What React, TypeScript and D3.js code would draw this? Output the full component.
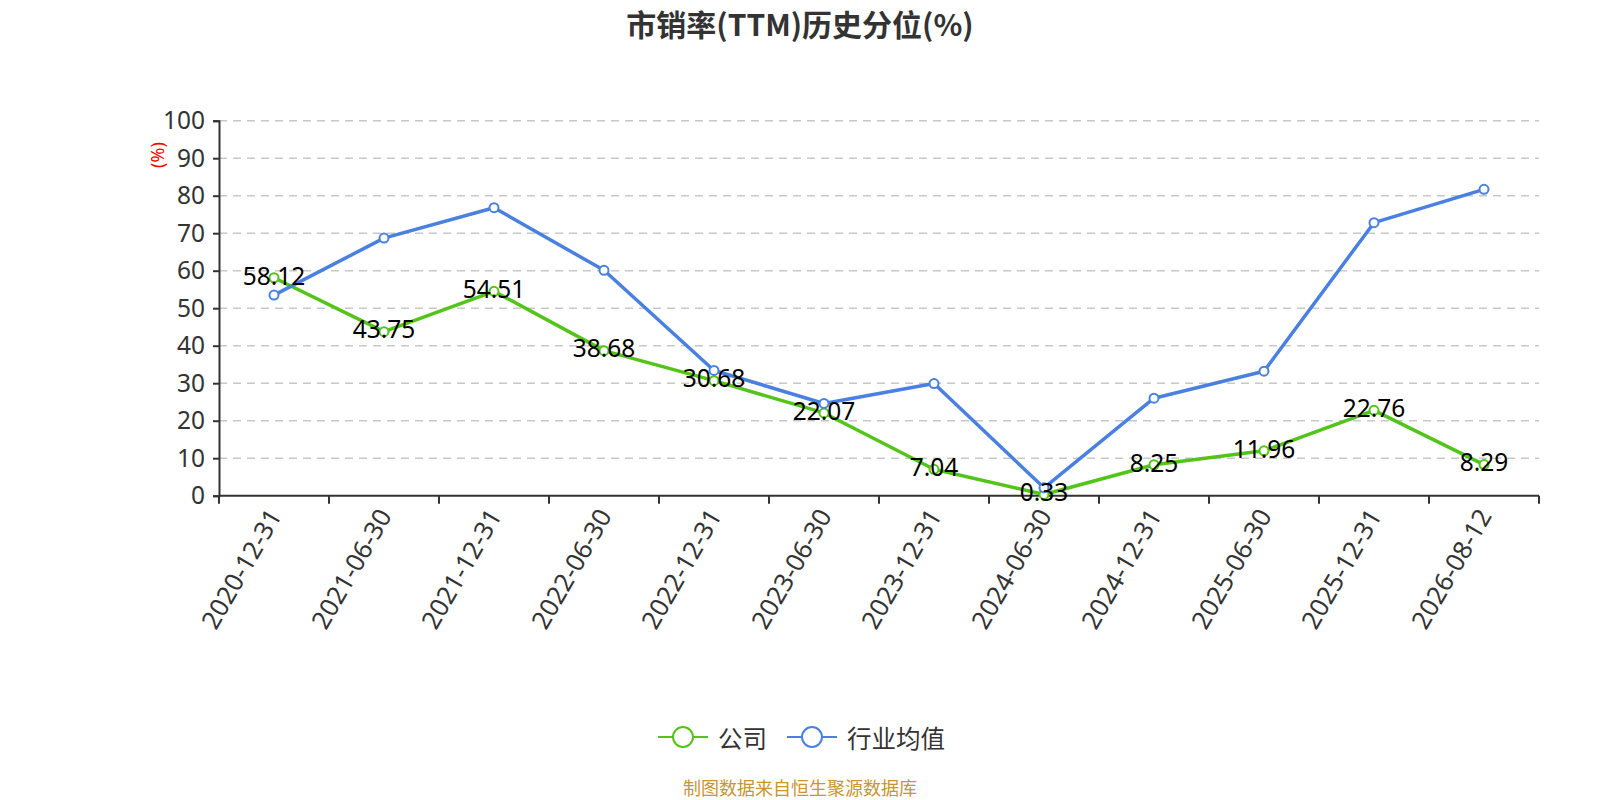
import { useRef, useEffect } from 'react';
import * as d3 from 'd3';

const categories = [
    "2020-12-31", "2021-06-30", "2021-12-31", "2022-06-30", "2022-12-31", "2023-06-30",
    "2023-12-31", "2024-06-30", "2024-12-31", "2025-06-30", "2025-12-31", "2026-08-12",
];
const companyValues = [58.12, 43.75, 54.51, 38.68, 30.68, 22.07, 7.04, 0.33, 8.25, 11.96, 22.76, 8.29];
const industryValues = [53.5, 68.7, 76.8, 60.1, 33.4, 24.6, 29.9, 2.1, 26.0, 33.2, 72.8, 81.7];
const yTicks = [0, 10, 20, 30, 40, 50, 60, 70, 80, 90, 100];
const seriesNames = ["公司", "行业均值"];
const seriesColors = ["#52c41a", "#4a80e0"];

const FONT = '"Noto Sans", "Noto Sans CJK SC", sans-serif';
const CJK = '"Noto Sans CJK SC", sans-serif';

export default function App() {
    const ref = useRef<HTMLDivElement>(null);

    useEffect(() => {
        const svg_width = 1600;
        const svg_height = 800;
        const left = 219, right = 1539, top = 120.7, bottom = 495.7;

        const svg = d3.select(ref.current)
            .append("svg")
                .attr("width", svg_width)
                .attr("height", svg_height)
                .style("display", "block")
                .style("font-family", FONT);

        // title
        svg.append("text")
            .attr("x", 800)
            .attr("y", 23)
            .attr("text-anchor", "middle")
            .attr("dominant-baseline", "central")
            .attr("font-size", 30)
            .attr("font-weight", "bold")
            .attr("font-family", CJK)
            .attr("fill", "#333")
            .text("市销率(TTM)历史分位(%)");

        const x = d3.scaleBand<string>()
            .domain(categories)
            .range([left, right]);

        const y = d3.scaleLinear()
            .domain([0, 100])
            .range([bottom, top]);

        // grid lines
        svg.append("g").selectAll("line")
            .data(yTicks.filter((t) => t > 0))
            .enter()
            .append("line")
                .attr("x1", left)
                .attr("x2", right)
                .attr("y1", (d) => y(d))
                .attr("y2", (d) => y(d))
                .attr("stroke", "#c8c8c8")
                .attr("stroke-width", 1.5)
                .attr("stroke-dasharray", "8,6");

        // y axis
        const yAxis = svg.append("g")
            .attr("transform", `translate(${left},0)`)
            .call(d3.axisLeft(y).tickValues(yTicks).tickSize(6).tickPadding(8));
        yAxis.select(".domain").attr("stroke", "#333").attr("stroke-width", 2);
        yAxis.selectAll(".tick line").attr("stroke", "#333").attr("stroke-width", 2);
        yAxis.selectAll(".tick text")
            .attr("font-size", 24.5)
            .attr("font-family", FONT)
            .attr("fill", "#333");

        // y axis name
        svg.append("text")
            .attr("transform", `translate(157,155) rotate(-90)`)
            .attr("text-anchor", "middle")
            .attr("dominant-baseline", "central")
            .attr("font-size", 18)
            .attr("fill", "red")
            .text("(%)");

        // x axis
        const xAxis = svg.append("g")
            .attr("transform", `translate(0,${bottom})`);
        xAxis.append("line")
            .attr("x1", left)
            .attr("x2", right)
            .attr("stroke", "#333")
            .attr("stroke-width", 2);
        const boundaries = categories.map((c) => x(c) ?? 0).concat([right]);
        xAxis.selectAll(".xtick")
            .data(boundaries)
            .enter()
            .append("line")
                .attr("x1", (d) => d)
                .attr("x2", (d) => d)
                .attr("y1", 0)
                .attr("y2", 8)
                .attr("stroke", "#333")
                .attr("stroke-width", 2);
        xAxis.selectAll(".xlabel")
            .data(categories)
            .enter()
            .append("text")
                .attr("transform", (d) => `translate(${(x(d) ?? 0) + x.bandwidth() / 2},15) rotate(-60)`)
                .attr("text-anchor", "end")
                .attr("dominant-baseline", "central")
                .attr("font-size", 25.5)
                .attr("fill", "#333")
                .text((d) => d);

        const line = d3.line<number>()
            .x((_, i) => (x(categories[i]) ?? 0) + x.bandwidth() / 2)
            .y((d) => y(d));

        [companyValues, industryValues].forEach((values, idx) => {
            const g = svg.append("g");
            g.append("path")
                .datum(values)
                .attr("d", line)
                .attr("fill", "none")
                .attr("stroke", seriesColors[idx])
                .attr("stroke-width", 3.5)
                .attr("stroke-linejoin", "round");
            g.selectAll("circle")
                .data(values)
                .enter()
                .append("circle")
                    .attr("cx", (_, i) => (x(categories[i]) ?? 0) + x.bandwidth() / 2)
                    .attr("cy", (d) => y(d))
                    .attr("r", 4.5)
                    .attr("fill", "#fff")
                    .attr("stroke", seriesColors[idx])
                    .attr("stroke-width", 2);
        });

        // data labels for the company series
        svg.append("g").selectAll("text")
            .data(companyValues)
            .enter()
            .append("text")
                .attr("x", (_, i) => (x(categories[i]) ?? 0) + x.bandwidth() / 2)
                .attr("y", (d) => y(d) - 2)
                .attr("dy", "0.36em")
                .attr("text-anchor", "middle")
                .attr("font-size", 24.5)
                .attr("fill", "#000")
                .text((d) => d.toFixed(2));

        // legend
        const legend = svg.append("g");
        const legendItems = [
            { name: seriesNames[0], x0: 658, textX: 718 },
            { name: seriesNames[1], x0: 787, textX: 847 },
        ];
        legendItems.forEach((item, idx) => {
            legend.append("line")
                .attr("x1", item.x0)
                .attr("x2", item.x0 + 50)
                .attr("y1", 737)
                .attr("y2", 737)
                .attr("stroke", seriesColors[idx])
                .attr("stroke-width", 2);
            legend.append("circle")
                .attr("cx", item.x0 + 25)
                .attr("cy", 737)
                .attr("r", 10)
                .attr("fill", "#fff")
                .attr("stroke", seriesColors[idx])
                .attr("stroke-width", 2);
            legend.append("text")
                .attr("x", item.textX)
                .attr("y", 737)
                .attr("dominant-baseline", "central")
                .attr("font-size", 24.5)
                .attr("font-family", CJK)
                .attr("fill", "#333")
                .text(item.name);
        });

        // source note
        svg.append("text")
            .attr("x", 800)
            .attr("y", 787)
            .attr("text-anchor", "middle")
            .attr("dominant-baseline", "central")
            .attr("font-size", 18)
            .attr("font-family", CJK)
            .attr("fill", "#c9952f")
            .text("制图数据来自恒生聚源数据库");

        return () => {
            d3.select(ref.current).selectAll("*").remove();
        };
    }, [ref]);

    return (
        <div ref={ref} style={{ position: "absolute", left: 0, top: 0 }} />
    );
}
